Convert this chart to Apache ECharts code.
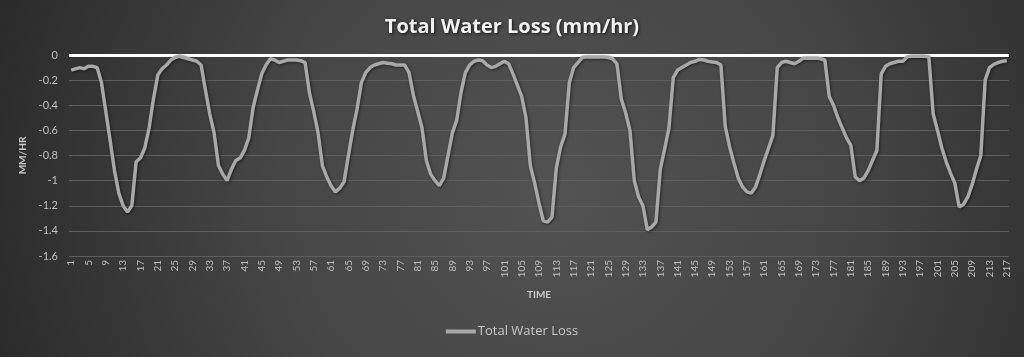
<!DOCTYPE html>
<html>
<head>
<meta charset="utf-8">
<script src="https://cdn.jsdelivr.net/npm/echarts@6/dist/echarts.min.js"></script>
<style>
html,body{margin:0;padding:0;width:1024px;height:357px;overflow:hidden;}
#c{width:1024px;height:357px;}
</style>
</head>
<body>
<div id="c"></div>
<script>
var categories = [];
for (var k = 1; k <= 217; k++) categories.push(String(k));

var totalWaterLoss = [
-0.12,-0.11,-0.10,-0.11,-0.09,-0.09,-0.10,-0.22,-0.45,-0.68,
-0.92,-1.10,-1.20,-1.25,-1.20,-0.85,-0.82,-0.74,-0.58,-0.35,
-0.16,-0.11,-0.08,-0.04,-0.02,-0.01,-0.02,-0.03,-0.04,-0.05,
-0.08,-0.28,-0.47,-0.62,-0.88,-0.95,-1.00,-0.91,-0.84,-0.82,
-0.76,-0.66,-0.42,-0.28,-0.15,-0.08,-0.03,-0.04,-0.06,-0.05,
-0.04,-0.04,-0.04,-0.045,-0.06,-0.30,-0.45,-0.62,-0.88,-0.97,
-1.04,-1.09,-1.06,-1.01,-0.80,-0.60,-0.43,-0.22,-0.14,-0.10,
-0.08,-0.07,-0.06,-0.065,-0.07,-0.08,-0.08,-0.08,-0.14,-0.32,
-0.45,-0.58,-0.84,-0.95,-1.00,-1.04,-0.98,-0.80,-0.62,-0.52,
-0.30,-0.14,-0.08,-0.05,-0.04,-0.045,-0.08,-0.10,-0.09,-0.07,
-0.05,-0.07,-0.15,-0.24,-0.33,-0.50,-0.88,-1.02,-1.18,-1.32,
-1.33,-1.29,-0.90,-0.73,-0.63,-0.22,-0.10,-0.06,-0.02,-0.015,
-0.015,-0.015,-0.015,-0.015,-0.02,-0.03,-0.07,-0.35,-0.46,-0.60,
-1.00,-1.13,-1.20,-1.39,-1.37,-1.33,-0.91,-0.75,-0.58,-0.18,
-0.12,-0.10,-0.08,-0.06,-0.05,-0.035,-0.04,-0.05,-0.055,-0.06,
-0.08,-0.57,-0.73,-0.86,-0.98,-1.05,-1.09,-1.10,-1.05,-0.95,
-0.84,-0.74,-0.64,-0.10,-0.06,-0.05,-0.06,-0.07,-0.05,-0.025,
-0.025,-0.025,-0.025,-0.03,-0.04,-0.33,-0.40,-0.50,-0.58,-0.66,
-0.72,-0.97,-1.00,-0.98,-0.92,-0.84,-0.76,-0.15,-0.09,-0.07,
-0.06,-0.05,-0.05,-0.015,-0.01,-0.01,-0.01,-0.01,-0.015,-0.47,
-0.60,-0.74,-0.85,-0.94,-1.02,-1.21,-1.19,-1.13,-1.03,-0.91,
-0.80,-0.20,-0.10,-0.075,-0.06,-0.05,-0.045
];

var yTicks = ['0','-0.2','-0.4','-0.6','-0.8','-1','-1.2','-1.4','-1.6'];

var font = 'Lato, "Open Sans", sans-serif';
var chart = echarts.init(document.getElementById('c'), null, {renderer:'canvas'});
chart.setOption({
  backgroundColor: {
    type: 'radial', x: 560, y: 190, r: 620, global: true,
    colorStops: [
      {offset: 0, color: '#525252'},
      {offset: 0.45, color: '#464646'},
      {offset: 1, color: '#282828'}
    ]
  },
  animation: false,
  title: {
    text: 'Total Water Loss (mm/hr)',
    left: 'center', top: 12,
    textStyle: {
      color: '#f2f2f2', fontFamily: '"Open Sans", Lato, sans-serif', fontSize: 20, fontWeight: 'bold',
      textShadowColor: 'rgba(0,0,0,0.7)', textShadowBlur: 3, textShadowOffsetX: 1, textShadowOffsetY: 1
    }
  },
  legend: {
    bottom: 14, left: 'center',
    itemWidth: 30, itemHeight: 4, itemGap: 10,
    icon: 'rect',
    textStyle: {color: '#c8c8c8', fontFamily: '"Open Sans", Lato, sans-serif', fontSize: 13, padding: [0,0,0,-3]},
    data: ['Total Water Loss']
  },
  grid: {left: 69, right: 15, top: 55, bottom: 101, containLabel: false},
  xAxis: {
    type: 'category',
    data: categories,
    boundaryGap: true,
    name: 'TIME',
    nameLocation: 'middle',
    nameGap: 34,
    nameTextStyle: {color: '#c8c8c8', fontFamily: font, fontSize: 10, fontWeight: 'bold'},
    axisLine: {show: false},
    axisTick: {show: false},
    axisLabel: {
      interval: 3, rotate: 90, color: '#bfbfbf', fontFamily: font, fontSize: 10, margin: 4
    },
    splitLine: {show: false}
  },
  yAxis: {
    type: 'value',
    min: -1.6, max: 0, interval: 0.2,
    name: 'MM/HR',
    nameLocation: 'middle',
    nameRotate: 90,
    nameGap: 29,
    nameTextStyle: {color: '#c8c8c8', fontFamily: font, fontSize: 10, fontWeight: 'bold'},
    axisLine: {show: false},
    axisTick: {show: false},
    axisLabel: {
      color: '#bfbfbf', fontFamily: font, fontSize: 11, margin: 11,
      formatter: function (v) {
        var idx = Math.round(-v / 0.2);
        return yTicks[idx] !== undefined ? yTicks[idx] : '';
      }
    },
    splitLine: {lineStyle: {color: '#5e5e5e', width: 1}}
  },
  series: [{
    name: 'Total Water Loss',
    type: 'line',
    data: totalWaterLoss,
    symbol: 'none',
    smooth: false,
    itemStyle: {color: '#a8a8a8'},
    lineStyle: {color: '#a8a8a8', width: 3.5, shadowColor: 'rgba(0,0,0,0.5)', shadowBlur: 3, shadowOffsetX: 1, shadowOffsetY: 1},
    markLine: {
      silent: true,
      symbol: ['none','none'],
      label: {show: false},
      lineStyle: {color: '#ffffff', width: 3, type: 'solid'},
      data: [{yAxis: 0}],
      z: 1
    },
    z: 3
  }]
});
</script>
</body>
</html>
